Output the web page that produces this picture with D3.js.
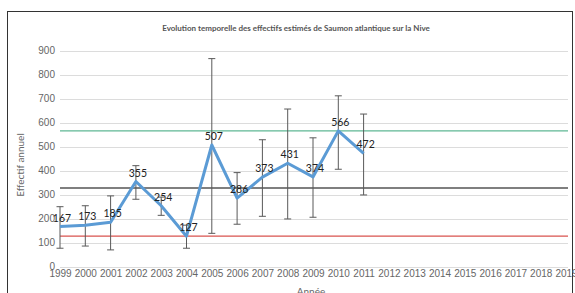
<!doctype html>
<html lang="fr">
<head>
  <meta charset="utf-8">
  <title>Saumon atlantique - Nive</title>
  <script src="https://cdn.jsdelivr.net/npm/d3@7"></script>
  <style>
    body{margin:0;background:#fff}
    svg{display:block;font-family:Lato,"Open Sans",sans-serif}
  </style>
</head>
<body>
<div id="chart"></div>
<script>
// annees de l'axe et valeurs estimees
var years = d3.range(1999, 2020);
var dataYears = [1999, 2000, 2001, 2002, 2003, 2004, 2005, 2006, 2007, 2008, 2009, 2010, 2011];
var effectif = [167, 173, 185, 355, 254, 127, 507, 286, 373, 431, 374, 566, 472];
var errLow = [77, 86, 70, 281, 214, 77, 139, 177, 210, 199, 206, 406, 299];
var errHigh = [250, 254, 295, 421, 290, 173, 867, 392, 529, 657, 537, 712, 636];
var yTicks = [0, 100, 200, 300, 400, 500, 600, 700, 800, 900];
var refLines = [
  {v: 566, c: "#5fb794"},
  {v: 328, c: "#555555"},
  {v: 127, c: "#d9534f"}
];

var W = 575, H = 293;
var svg = d3.select("#chart").append("svg").attr("width", W).attr("height", H);

svg.append("rect").attr("x", 7.5).attr("y", 11.5).attr("width", 565).attr("height", 300)
  .attr("fill", "#fff").attr("stroke", "#333").attr("stroke-width", 1);

var x = d3.scaleLinear().domain([1999, 2019]).range([60, 566]);
var y = d3.scaleLinear().domain([0, 900]).range([266.7, 50.7]);

var g = svg.append("g");

// grille
g.selectAll("line.grid").data(yTicks).enter().append("line")
  .attr("class", "grid")
  .attr("x1", x(1999)).attr("x2", 568)
  .attr("y1", function (d) { return Math.round(y(d)) + 0.5; })
  .attr("y2", function (d) { return Math.round(y(d)) + 0.5; })
  .attr("stroke", "#dcdcdc").attr("stroke-width", 1);

// axe y
var yAxis = d3.axisLeft(y).tickValues(yTicks).tickSize(0).tickPadding(0);
g.append("g").attr("transform", "translate(55,0)").call(yAxis)
  .call(function (s) { s.select(".domain").remove(); })
  .selectAll("text").attr("fill", "#666").style("font-size", "10px");

// axe x
var xAxis = d3.axisBottom(x).tickValues(years).tickFormat(d3.format("d")).tickSize(0).tickPadding(0);
g.append("g").attr("transform", "translate(0,270)").call(xAxis)
  .call(function (s) { s.select(".domain").remove(); })
  .selectAll("text").attr("fill", "#666").style("font-size", "10px");

// lignes de reference
g.selectAll("line.ref").data(refLines).enter().append("line")
  .attr("class", "ref")
  .attr("x1", x(1999)).attr("x2", 568)
  .attr("y1", function (d) { return y(d.v); })
  .attr("y2", function (d) { return y(d.v); })
  .attr("stroke", function (d) { return d.c; }).attr("stroke-width", 1.3);

// barres d'erreur
var err = g.selectAll("g.err").data(dataYears).enter().append("g").attr("class", "err")
  .attr("stroke", "#595959").attr("stroke-width", 1);
err.append("line")
  .attr("x1", function (d) { return x(d); }).attr("x2", function (d) { return x(d); })
  .attr("y1", function (d, i) { return y(errLow[i]); })
  .attr("y2", function (d, i) { return y(errHigh[i]); });
err.append("line")
  .attr("x1", function (d) { return x(d) - 3.5; }).attr("x2", function (d) { return x(d) + 3.5; })
  .attr("y1", function (d, i) { return y(errLow[i]); })
  .attr("y2", function (d, i) { return y(errLow[i]); });
err.append("line")
  .attr("x1", function (d) { return x(d) - 3.5; }).attr("x2", function (d) { return x(d) + 3.5; })
  .attr("y1", function (d, i) { return y(errHigh[i]); })
  .attr("y2", function (d, i) { return y(errHigh[i]); });

// courbe
var line = d3.line()
  .x(function (d, i) { return x(dataYears[i]); })
  .y(function (d) { return y(d); });
g.append("path").datum(effectif).attr("d", line)
  .attr("fill", "none").attr("stroke", "#5b9bd5").attr("stroke-width", 3)
  .attr("stroke-linejoin", "round");

// etiquettes
g.selectAll("text.lab").data(effectif).enter().append("text")
  .attr("class", "lab")
  .attr("x", function (d, i) { return x(dataYears[i]) + 2; })
  .attr("y", function (d) { return y(d) - 5; })
  .attr("text-anchor", "middle")
  .attr("fill", "#222").style("font-size", "10.5px")
  .text(function (d) { return d; });

// titres
svg.append("text").attr("x", 296).attr("y", 31).attr("text-anchor", "middle")
  .attr("fill", "#555").style("font-size", "8px").style("font-weight", "bold")
  .text("Evolution temporelle des effectifs estimés de Saumon atlantique sur la Nive");

svg.append("text").attr("transform", "translate(24,165) rotate(-90)")
  .attr("text-anchor", "middle").attr("fill", "#666").style("font-size", "10px")
  .text("Effectif annuel");

svg.append("text").attr("x", 311).attr("y", 295).attr("text-anchor", "middle")
  .attr("fill", "#666").style("font-size", "10px")
  .text("Année");
</script>
</body>
</html>
